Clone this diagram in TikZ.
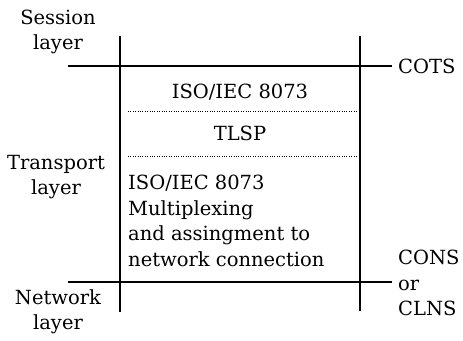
\documentclass[tikz,border=0pt]{standalone}
\usepackage{fontspec}
\setmainfont{DejaVu Serif}
\usetikzlibrary{positioning}

\begin{document}
\begin{tikzpicture}[x=1pt,y=-1pt,
    rule/.style={line width=1.1pt},
    dotrule/.style={line width=0.8pt,dash pattern=on 1pt off 1.4pt},
    lbl/.style={inner sep=0pt,font=\fontsize{19.5}{25.5}\selectfont},
  ]
  \useasboundingbox (0,0) rectangle (463,340);

  % frame of the transport layer
  \coordinate (lt) at (120,36);
  \coordinate (lb) at (120,312);
  \coordinate (rt) at (360,36);
  \coordinate (rb) at (360,311);
  \coordinate (tl) at (68,66);
  \coordinate (tr) at (392,66);
  \coordinate (bl) at (68,282);
  \coordinate (br) at (392,282);
  \coordinate (d1l) at (128,111);
  \coordinate (d1r) at (358,111);
  \coordinate (d2l) at (128,156);
  \coordinate (d2r) at (358,156);

  \draw[rule] (lt) -- (lb);
  \draw[rule] (rt) -- (rb);
  \draw[rule] (tl) -- (tr);
  \draw[rule] (bl) -- (br);
  \draw[dotrule] (d1l) -- (d1r);
  \draw[dotrule] (d2l) -- (d2r);

  % layer names
  \node[lbl,align=center] (session)   at (58,32)  {Session\\layer};
  \node[lbl,align=center] (transport) at (56,177) {Transport\\layer};
  \node[lbl,align=center] (network)   at (58,312) {Network\\layer};

  % contents
  \node[lbl] (iso)  at (240,92)  {ISO/IEC 8073};
  \node[lbl] (tlsp) at (240,133) {TLSP};
  \node[lbl,align=left,anchor=west] (mux) at (128,221)
    {ISO/IEC 8073\\Multiplexing\\and assingment to\\network connection};

  % services
  \node[lbl,anchor=west] (cots) at (398,66) {COTS};
  \node[lbl,align=left,anchor=west] (cons) at (398,283) {CONS\\or\\CLNS};
\end{tikzpicture}
\end{document}
